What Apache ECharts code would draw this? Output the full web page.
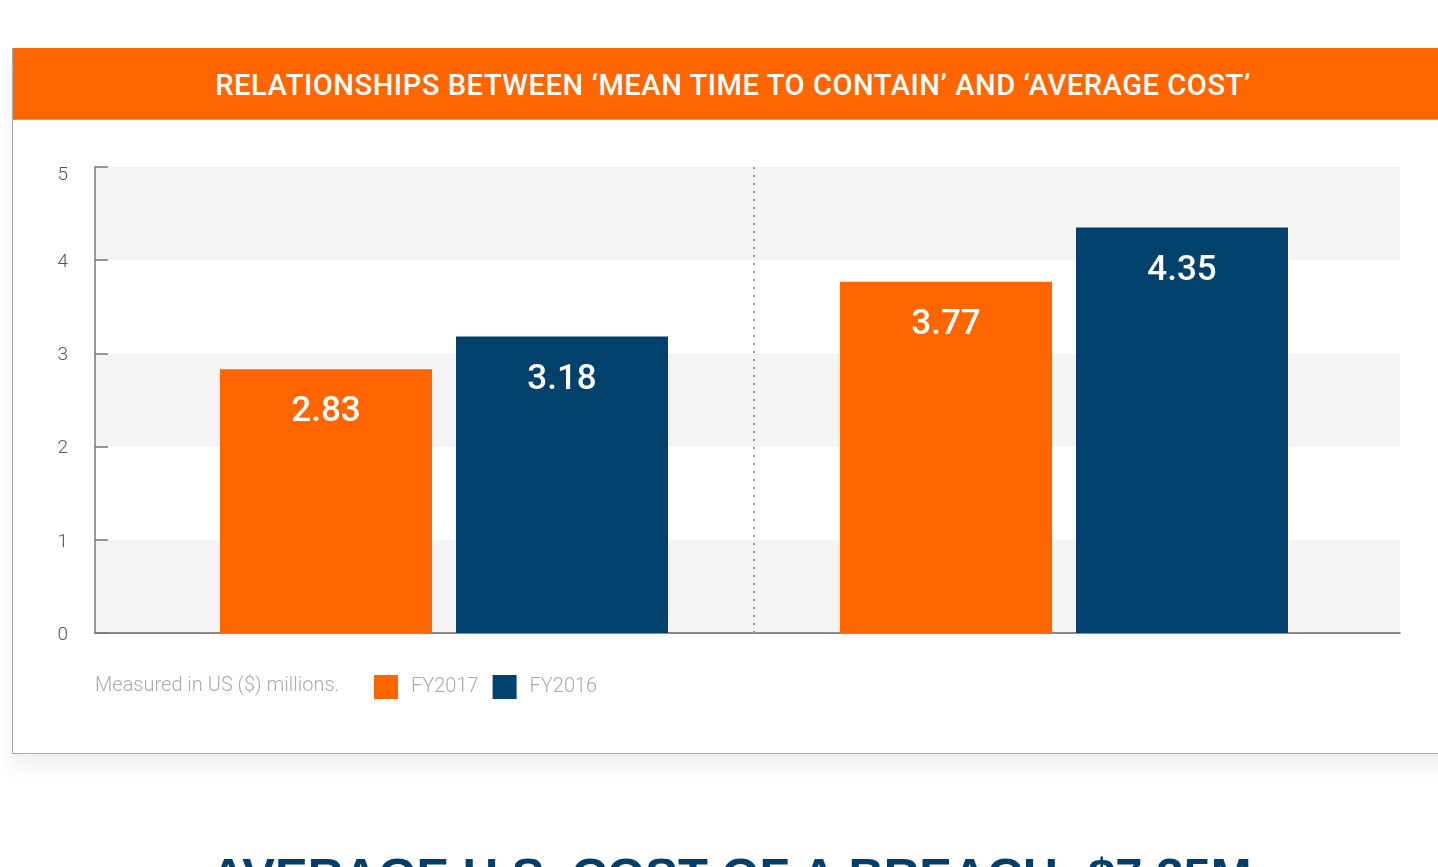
<!DOCTYPE html>
<html>
<head>
<meta charset="utf-8">
<title>Mean time to contain vs average cost</title>
<script src="https://cdn.jsdelivr.net/npm/echarts@6/dist/echarts.min.js"></script>
<style>
  html, body { margin: 0; padding: 0; background: #fff; overflow: hidden; }
  body { width: 1438px; height: 867px; position: relative; font-family: Roboto, "Noto Sans", sans-serif; }
  .card {
    position: absolute; left: 12px; top: 48px; width: 1440px; height: 705px;
    border: 1px solid #a8a8a8; border-top: none; background: #fff;
    box-shadow: 0 12px 22px rgba(0,0,0,0.07);
  }
  .card .head {
    height: 71px; background: #ff6600; color: #fff; text-align: center;
    font-size: 29px; font-weight: 500; line-height: 75px; letter-spacing: 0.6px;
    border-bottom: 1px solid #a8a8a8;
  }
  #chart { position: absolute; left: 0; top: 0; width: 1438px; height: 867px; }
  .below {
    position: absolute; left: 12px; width: 1438px; top: 847px; text-align: center;
    font-family: "Liberation Sans", Arial, sans-serif; font-weight: bold; font-size: 49px;
    color: #003f6b; white-space: nowrap;
  }
</style>
</head>
<body>
<div class="card"><div class="head">RELATIONSHIPS BETWEEN ‘MEAN TIME TO CONTAIN’ AND ‘AVERAGE COST’</div></div>
<div class="below">AVERAGE U.S. COST OF A BREACH: $7.35M</div>
<div id="chart"></div>
<script>
// data
const groups = ['MTTC under 30 days', 'MTTC 30 days or more']
const fy2017 = [2.83, 3.77]
const fy2016 = [3.18, 4.35]
const yTicks = [0, 5, 1]   // min, max, interval
const note = 'Measured in US ($) millions.'

const orange = '#ff6600'
const navy = '#02416b'

const barLabel = {
    show: true,
    position: 'insideTop',
    distance: 26,
    color: '#fff',
    fontSize: 35,
    fontWeight: 500,
    fontFamily: 'Roboto',
    formatter: p => p.value.toFixed(2)
}

const option = {
    animation: false,
    backgroundColor: 'transparent',
    textStyle: { fontFamily: 'Roboto' },
    legend: {
        left: 374,
        top: 675,
        padding: 0,
        itemWidth: 24,
        itemHeight: 24,
        itemGap: 14,
        icon: 'rect',
        textStyle: { color: '#aaa', fontSize: 20, fontWeight: 300, lineHeight: 24, padding: [0, 0, 0, 8] },
        data: ['FY2017', 'FY2016']
    },
    graphic: [{
        type: 'text',
        left: 95,
        top: 676,
        style: { text: note, fill: '#aaa', fontSize: 20, fontWeight: 300, fontFamily: 'Roboto' }
    }],
    grid: [
        { left: 95, right: 38, top: 167, bottom: 234 },
        { left: 134, right: 64, top: 167, bottom: 234 }
    ],
    xAxis: [{
        type: 'category',
        gridIndex: 0,
        data: groups,
        axisLine: { lineStyle: { color: '#666', width: 1.5 } },
        axisTick: { show: false },
        axisLabel: { show: false }
    }, {
        type: 'category',
        gridIndex: 1,
        data: groups,
        z: 1,
        axisLine: { show: false },
        axisTick: { show: false },
        axisLabel: { show: false },
        splitLine: {
            show: true,
            showMinLine: false,
            showMaxLine: false,
            lineStyle: { color: '#999', width: 2, type: [2, 6] }
        }
    }],
    yAxis: [{
        type: 'value',
        gridIndex: 0,
        min: yTicks[0],
        max: yTicks[1],
        interval: yTicks[2],
        z: 0,
        axisLine: { show: true, lineStyle: { color: '#777', width: 1.5 } },
        axisTick: { show: true, inside: true, length: 13, lineStyle: { color: '#777', width: 1.5 } },
        axisLabel: {
            color: '#555',
            fontSize: 19,
            fontWeight: 300,
            margin: 27,
            formatter: v => v === yTicks[1] ? '{top|' + v + '}' : '{n|' + v + '}',
            rich: {
                top: { color: '#555', fontSize: 19, fontWeight: 300, padding: [16, 0, 0, 0] },
                n: { color: '#555', fontSize: 19, fontWeight: 300, padding: [4, 0, 0, 0] }
            }
        },
        splitLine: { show: false },
        splitArea: { show: true, areaStyle: { color: ['#f4f4f4', '#ffffff'] } }
    }, {
        type: 'value',
        gridIndex: 1,
        min: yTicks[0],
        max: yTicks[1],
        interval: yTicks[2],
        show: false
    }],
    series: [{
        name: 'FY2017',
        type: 'bar',
        xAxisIndex: 1,
        yAxisIndex: 1,
        data: fy2017,
        barWidth: 212,
        barGap: '11.32%',
        itemStyle: { color: orange },
        label: barLabel,
        z: 3
    }, {
        name: 'FY2016',
        type: 'bar',
        xAxisIndex: 1,
        yAxisIndex: 1,
        data: fy2016,
        barWidth: 212,
        itemStyle: { color: navy },
        label: barLabel,
        z: 3
    }]
}

const chart = echarts.init(document.getElementById('chart'))
chart.setOption(option)
</script>
</body>
</html>
